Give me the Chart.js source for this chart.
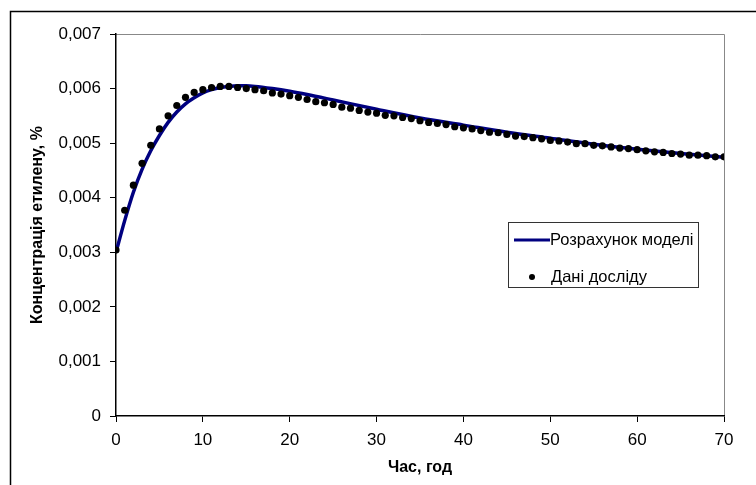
<!DOCTYPE html>
<html>
<head>
<meta charset="utf-8">
<script src="https://cdn.jsdelivr.net/npm/chart.js@4"></script>
<style>
  html, body { margin: 0; padding: 0; background: #fff; }
  #wrap { width: 756px; height: 485px; position: relative; }
</style>
</head>
<body>
<div id="wrap"><canvas id="graph" width="756" height="485"></canvas></div>
<script>
// Дані досліду (час, год -> концентрація, %)
var expHours = [0, 1, 2, 3, 4, 5, 6, 7, 8, 9, 10, 11, 12, 13, 14, 15, 16, 17, 18, 19,
  20, 21, 22, 23, 24, 25, 26, 27, 28, 29, 30, 31, 32, 33, 34, 35, 36, 37, 38, 39,
  40, 41, 42, 43, 44, 45, 46, 47, 48, 49, 50, 51, 52, 53, 54, 55, 56, 57, 58, 59,
  60, 61, 62, 63, 64, 65, 66, 67, 68, 69, 70];
var expValues = [0.00304, 0.00377, 0.00423, 0.00463, 0.00496, 0.00526, 0.00550, 0.00569, 0.00584, 0.00593,
  0.00598, 0.00602, 0.00604, 0.00604, 0.00602, 0.00600, 0.00598, 0.00596, 0.00592, 0.00590,
  0.00587, 0.00584, 0.00580, 0.00576, 0.00574, 0.00571, 0.00566, 0.00564, 0.00560, 0.00557,
  0.00555, 0.00551, 0.00550, 0.00547, 0.00545, 0.00541, 0.00538, 0.00536, 0.00534, 0.00530,
  0.00528, 0.00526, 0.00523, 0.00520, 0.00519, 0.00516, 0.00513, 0.00512, 0.00510, 0.00508,
  0.00505, 0.00504, 0.00502, 0.00499, 0.00499, 0.00496, 0.00495, 0.00493, 0.00491, 0.00490,
  0.00488, 0.00486, 0.00484, 0.00483, 0.00481, 0.00480, 0.00478, 0.00478, 0.00477, 0.00475,
  0.00475];

// Розрахунок моделі
var modelHours = [0, 1, 2, 3, 4, 5, 6, 7, 8, 9, 10, 11, 12, 13, 14, 15, 16, 18, 20, 22, 25, 30, 35, 40, 45, 50, 55, 60, 65, 70];
var modelValues = [0.00300, 0.00358, 0.00410, 0.00452, 0.00486, 0.00514, 0.00538, 0.00557, 0.00572, 0.00583,
  0.00592, 0.00598, 0.00602, 0.00604, 0.00605, 0.00605, 0.00604, 0.00600, 0.00595, 0.00589,
  0.00579, 0.00562, 0.00546, 0.00533, 0.00520, 0.00509, 0.00498, 0.00489, 0.00481, 0.00474];

var xTicks = [0, 10, 20, 30, 40, 50, 60, 70];
var yTicks = [0, 0.001, 0.002, 0.003, 0.004, 0.005, 0.006, 0.007];

var lineLabel = 'Розрахунок моделі';
var dotLabel = 'Дані досліду';
var navy = '#000080';
var font = '"Liberation Sans", Arial, sans-serif';

function toPts(xs, ys) {
  let arr = [];
  for (let k = 0; k < xs.length; k++) arr.push({ x: xs[k], y: ys[k] });
  return arr;
}

// рамка навколо діаграми, сіра рамка області побудови та легенда
var decor = {
  id: 'decor',
  beforeDraw(chart) {
    let c = chart.ctx;
    c.save();
    c.fillStyle = '#fff';
    c.fillRect(0, 0, chart.width, chart.height);
    c.strokeStyle = '#000';
    c.lineWidth = 1.5;
    c.beginPath();
    c.moveTo(10.5, chart.height);
    c.lineTo(10.5, 11.5);
    c.lineTo(chart.width, 11.5);
    c.stroke();
    let a = chart.chartArea;
    c.strokeStyle = '#888';
    c.lineWidth = 1;
    c.beginPath();
    c.moveTo(a.left, a.top + 0.5);
    c.lineTo(a.right + 0.5, a.top + 0.5);
    c.lineTo(a.right + 0.5, a.bottom);
    c.stroke();
    c.restore();
  },
  afterDraw(chart) {
    let c = chart.ctx;
    let ds = chart.data.datasets;
    c.save();
    c.fillStyle = '#fff';
    c.fillRect(508, 222, 190, 65);
    c.strokeStyle = '#333';
    c.lineWidth = 1;
    c.strokeRect(508.5, 222.5, 190, 65);
    // лінія моделі
    c.strokeStyle = ds[1].borderColor;
    c.lineWidth = 3;
    c.beginPath();
    c.moveTo(514, 240);
    c.lineTo(550, 240);
    c.stroke();
    // точка досліду
    c.fillStyle = ds[0].backgroundColor;
    c.beginPath();
    c.arc(532, 277, 3, 0, Math.PI * 2);
    c.fill();
    c.fillStyle = '#000';
    c.font = '16.5px ' + font;
    c.textBaseline = 'middle';
    c.fillText(ds[1].label, 550, 240);
    c.fillText(ds[0].label, 551, 277);
    c.restore();
  }
};

var ctx = document.getElementById('graph').getContext('2d');
var chart = new Chart(ctx, {
  type: 'scatter',
  data: {
    datasets: [{
      label: dotLabel,
      data: toPts(expHours, expValues),
      showLine: false,
      pointRadius: 3.6,
      pointBackgroundColor: '#000',
      pointBorderWidth: 0,
      backgroundColor: '#000',
      borderColor: '#000',
      order: 0
    }, {
      label: lineLabel,
      data: toPts(modelHours, modelValues),
      showLine: true,
      pointRadius: 0,
      borderColor: navy,
      backgroundColor: navy,
      borderWidth: 3.5,
      cubicInterpolationMode: 'monotone',
      order: 1
    }]
  },
  options: {
    responsive: false,
    animation: false,
    layout: { padding: { left: 0, top: 34, right: 32, bottom: 0 } },
    plugins: { legend: { display: false }, tooltip: { enabled: false } },
    scales: {
      x: {
        type: 'linear',
        min: 0, max: 70,
        afterFit(s) { s.height = 69; },
        afterBuildTicks(s) { s.ticks = xTicks.map(v => ({ value: v })); },
        grid: { display: true, drawOnChartArea: false, drawTicks: true, tickLength: 6, color: '#000' },
        border: { display: true, color: '#000', width: 1.5 },
        ticks: { color: '#000', padding: 8, maxRotation: 0, font: { family: font, size: 17 } },
        title: { display: true, text: 'Час, год', color: '#000', padding: { top: 0, bottom: 8 }, font: { family: font, size: 16, weight: 'bold' } }
      },
      y: {
        type: 'linear',
        min: 0, max: 0.007,
        afterFit(s) { s.width = 116; },
        afterBuildTicks(s) { s.ticks = yTicks.map(v => ({ value: v })); },
        grid: { display: true, drawOnChartArea: false, drawTicks: true, tickLength: 6, color: '#000' },
        border: { display: true, color: '#000', width: 1.5 },
        ticks: {
          color: '#000', padding: 9, font: { family: font, size: 17 },
          callback: function (v) { return v === 0 ? '0' : v.toFixed(3).replace('.', ','); }
        },
        title: { display: true, text: 'Концентрація етилену, %', color: '#000', padding: { top: 28, bottom: 0 }, font: { family: font, size: 16, weight: 'bold' } }
      }
    }
  },
  plugins: [decor]
});
</script>
</body>
</html>
